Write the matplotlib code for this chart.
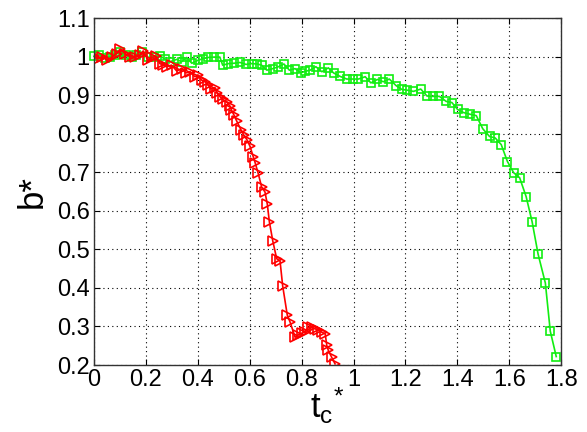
import matplotlib
matplotlib.use("Agg")
import matplotlib.pyplot as plt

plt.rcParams['font.family'] = ['Liberation Sans', 'DejaVu Sans']
plt.rcParams['mathtext.fontset'] = 'custom'
plt.rcParams['mathtext.rm'] = 'Liberation Sans'
plt.rcParams['mathtext.it'] = 'Liberation Sans'

# green series (squares)
tc_green = [0.000, 0.021, 0.042, 0.062, 0.081, 0.100, 0.123, 0.145, 0.164, 0.187,
            0.209, 0.231, 0.254, 0.274, 0.293, 0.319, 0.338, 0.357, 0.377, 0.402,
            0.421, 0.441, 0.463, 0.485, 0.496, 0.518, 0.540, 0.563, 0.586, 0.608,
            0.630, 0.646, 0.666, 0.689, 0.711, 0.732, 0.753, 0.775, 0.797, 0.813,
            0.833, 0.855, 0.878, 0.903, 0.923, 0.948, 0.974, 0.997, 1.019, 1.045,
            1.067, 1.092, 1.115, 1.138, 1.164, 1.186, 1.208, 1.231, 1.259, 1.283,
            1.306, 1.331, 1.357, 1.379, 1.401, 1.424, 1.447, 1.473, 1.498, 1.524,
            1.546, 1.569, 1.593, 1.617, 1.640, 1.665, 1.688, 1.711, 1.739, 1.758,
            1.781]
b_green = [1.001, 1.005, 0.997, 1.000, 1.004, 1.012, 1.004, 0.998, 1.004, 1.012,
           0.998, 0.999, 1.003, 0.993, 0.987, 0.993, 0.987, 0.998, 0.983, 0.991,
           0.995, 0.998, 0.999, 0.999, 0.978, 0.982, 0.983, 0.985, 0.980, 0.982,
           0.981, 0.978, 0.965, 0.969, 0.974, 0.981, 0.965, 0.969, 0.958, 0.962,
           0.965, 0.974, 0.961, 0.971, 0.958, 0.949, 0.942, 0.942, 0.942, 0.948,
           0.932, 0.941, 0.935, 0.942, 0.925, 0.915, 0.913, 0.910, 0.916, 0.898,
           0.897, 0.897, 0.884, 0.881, 0.863, 0.855, 0.851, 0.847, 0.813, 0.793,
           0.789, 0.772, 0.728, 0.699, 0.686, 0.637, 0.572, 0.488, 0.413, 0.288,
           0.222]

# red series (right triangles)
tc_red = [0.000, 0.017, 0.033, 0.049, 0.068, 0.087, 0.100, 0.120, 0.139, 0.158,
          0.177, 0.190, 0.209, 0.222, 0.239, 0.254, 0.267, 0.280, 0.299, 0.319,
          0.338, 0.355, 0.370, 0.389, 0.402, 0.415, 0.428, 0.441, 0.450, 0.466,
          0.475, 0.486, 0.496, 0.511, 0.524, 0.530, 0.540, 0.550, 0.566, 0.578,
          0.589, 0.601, 0.614, 0.621, 0.633, 0.646, 0.659, 0.668, 0.676, 0.689,
          0.704, 0.717, 0.727, 0.745, 0.756, 0.775, 0.788, 0.801, 0.813, 0.826,
          0.839, 0.852, 0.865, 0.878, 0.891, 0.897, 0.903, 0.916, 0.929]
b_red = [1.001, 0.995, 1.000, 0.991, 0.998, 1.008, 1.019, 1.008, 1.000, 0.998,
         1.004, 1.015, 0.991, 0.998, 1.001, 0.982, 0.978, 0.974, 0.978, 0.963,
         0.969, 0.958, 0.961, 0.948, 0.952, 0.939, 0.935, 0.926, 0.917, 0.920,
         0.906, 0.896, 0.889, 0.883, 0.872, 0.861, 0.848, 0.833, 0.811, 0.796,
         0.785, 0.768, 0.740, 0.725, 0.697, 0.662, 0.649, 0.617, 0.571, 0.522,
         0.476, 0.470, 0.406, 0.329, 0.311, 0.272, 0.279, 0.283, 0.285, 0.298,
         0.298, 0.294, 0.290, 0.285, 0.281, 0.251, 0.238, 0.220, 0.203]

xticks = [0, 0.2, 0.4, 0.6, 0.8, 1, 1.2, 1.4, 1.6, 1.8]
xticklabels = ['0', '0.2', '0.4', '0.6', '0.8', '1', '1.2', '1.4', '1.6', '1.8']
yticks = [0.2, 0.3, 0.4, 0.5, 0.6, 0.7, 0.8, 0.9, 1.0, 1.1]
yticklabels = ['0.2', '0.3', '0.4', '0.5', '0.6', '0.7', '0.8', '0.9', '1', '1.1']

fig = plt.figure(figsize=(5.87, 4.32), dpi=100)
ax = fig.add_axes([0.160, 0.155, 0.796, 0.803])

ax.plot(tc_green, b_green, '-s', color='#11ee11', mfc='none', mec='#11ee11',
        ms=6, lw=1.2, mew=1.2, clip_on=False)
ax.plot(tc_red, b_red, '->', color='#ff0000', mfc='none', mec='#ff0000',
        ms=7, lw=1.2, mew=1.2)

ax.set_xlim(0, 1.8)
ax.set_ylim(0.2, 1.1)
ax.set_xticks(xticks)
ax.set_xticklabels(xticklabels)
ax.set_yticks(yticks)
ax.set_yticklabels(yticklabels)
ax.tick_params(direction='in', top=True, right=True, labelsize=17, length=4,
               width=0.8, pad=3)
ax.grid(True, linestyle=(0, (1, 3)), color='black', linewidth=0.8)
for s in ax.spines.values():
    s.set_linewidth(1.0)
    s.set_color('#333333')

ax.set_xlabel('t$_\\mathregular{c}$$^\\mathregular{*}$', fontsize=25, labelpad=-4)
ax.set_ylabel('b*', fontsize=25, labelpad=6)

fig.savefig('out.png', dpi=100)
